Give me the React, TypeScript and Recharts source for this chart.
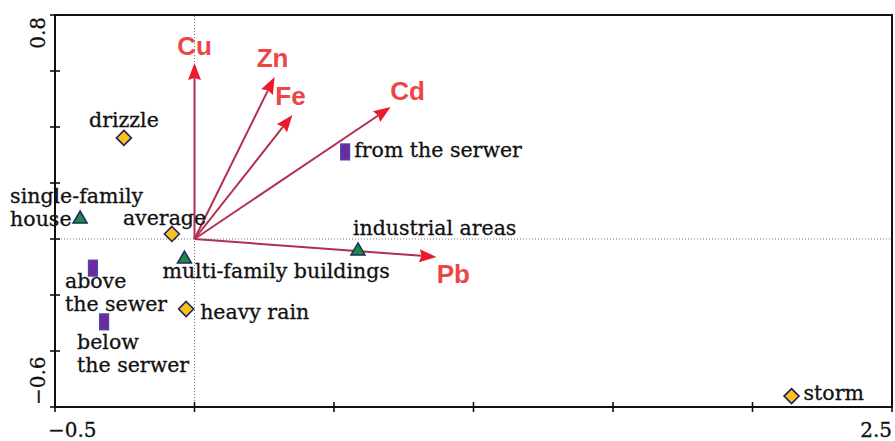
import React from "react";
import { ReferenceArea, ReferenceLine, Scatter, ScatterChart, XAxis, YAxis } from "recharts";

// axis ticks (only the end values carry a label)
const xTicks = [-0.5, 0, 0.5, 1, 1.5, 2, 2.5];
const yTicks = [-0.6, -0.4, -0.2, 0, 0.2, 0.4, 0.6, 0.8];

// sample scores
const rainfall = [
  { name: "drizzle", x: -0.253, y: 0.361 },
  { name: "average", x: -0.081, y: 0.018 },
  { name: "heavy rain", x: -0.03, y: -0.25 },
  { name: "storm", x: 2.14, y: -0.561 },
];
const buildings = [
  { name: "single-family house", x: -0.41, y: 0.075 },
  { name: "multi-family buildings", x: -0.036, y: -0.068 },
  { name: "industrial areas", x: 0.586, y: -0.039 },
];
const sampling = [
  { name: "from the serwer", x: 0.54, y: 0.311 },
  { name: "above the sewer", x: -0.364, y: -0.104 },
  { name: "below the serwer", x: -0.324, y: -0.296 },
];

// metal loadings (arrow tips, arrows start at the origin)
const metals = [
  { name: "Cu", x: 0, y: 0.629 },
  { name: "Zn", x: 0.287, y: 0.579 },
  { name: "Fe", x: 0.351, y: 0.443 },
  { name: "Cd", x: 0.703, y: 0.471 },
  { name: "Pb", x: 0.867, y: -0.064 },
];

// label placement in pixels relative to the marker (wrap = break at first space)
const labelPos: Record<string, { dx: number; dy: number; anchor?: string; wrap?: boolean; gap?: number }> = {
  drizzle: { dx: 0, dy: -11, anchor: "middle" },
  average: { dx: -49, dy: -9 },
  "heavy rain": { dx: 14, dy: 10 },
  storm: { dx: 12, dy: 4 },
  "single-family house": { dx: -70, dy: -15, wrap: true, gap: 23 },
  "multi-family buildings": { dx: -22, dy: 20 },
  "industrial areas": { dx: -5, dy: -15 },
  "from the serwer": { dx: 9, dy: 5 },
  "above the sewer": { dx: -28, dy: 20, wrap: true, gap: 23 },
  "below the serwer": { dx: -27, dy: 27, wrap: true, gap: 23 },
};
const metalLabelPos: Record<string, { dx: number; dy: number }> = {
  Cu: { dx: 0, dy: -8 },
  Zn: { dx: -2, dy: -10 },
  Fe: { dx: -2, dy: -10 },
  Cd: { dx: 17, dy: -7 },
  Pb: { dx: 17, dy: 26 },
};

const SERIF = "'DejaVu Serif', serif";
const SANS = "'Liberation Sans', Arial, sans-serif";

function PointLabel({ cx, cy, name }: { cx: number; cy: number; name: string }) {
  const pos = labelPos[name] || { dx: 10, dy: 5 };
  const i = name.indexOf(" ");
  const lines = pos.wrap && i > 0 ? [name.slice(0, i), name.slice(i + 1)] : [name];
  return (
    <g>
      {lines.map((l, k) => (
        <text
          key={k}
          x={cx + pos.dx}
          y={cy + pos.dy + k * (pos.gap || 0)}
          textAnchor={pos.anchor || "start"}
          fontFamily={SERIF}
          fontSize={20.5}
          fill="#111"
          stroke="#111"
          strokeWidth={0.3}
        >
          {l}
        </text>
      ))}
    </g>
  );
}

function Diamond(p: any) {
  const { cx, cy } = p;
  const r = 7.5;
  return (
    <g>
      <polygon
        points={`${cx},${cy - r} ${cx + r},${cy} ${cx},${cy + r} ${cx - r},${cy}`}
        fill="#f8c21c"
        stroke="#24205e"
        strokeWidth={1.6}
      />
      <PointLabel cx={cx} cy={cy} name={p.payload.name} />
    </g>
  );
}

function Triangle(p: any) {
  const { cx, cy } = p;
  return (
    <g>
      <polygon
        points={`${cx},${cy - 7} ${cx + 7},${cy + 5} ${cx - 7},${cy + 5}`}
        fill="#1f8a3c"
        stroke="#1d2a68"
        strokeWidth={1.5}
      />
      <PointLabel cx={cx} cy={cy} name={p.payload.name} />
    </g>
  );
}

function Bar(p: any) {
  const { cx, cy } = p;
  return (
    <g>
      <rect x={cx - 4.5} y={cy - 8} width={9} height={16} fill="#6b2b9e" stroke="#4b4bb0" strokeWidth={1.2} />
      <PointLabel cx={cx} cy={cy} name={p.payload.name} />
    </g>
  );
}

function arrowShape(name: string) {
  return (p: any) => {
    const { x1, y1, x2, y2 } = p;
    const dx = x2 - x1;
    const dy = y2 - y1;
    const len = Math.sqrt(dx * dx + dy * dy) || 1;
    const ux = dx / len;
    const uy = dy / len;
    const head = 17;
    const half = 6.5;
    const bx = x2 - ux * head;
    const by = y2 - uy * head;
    const lp = metalLabelPos[name];
    return (
      <g>
        <line x1={x1} y1={y1} x2={bx + ux * 2} y2={by + uy * 2} stroke="#b0304e" strokeWidth={2} />
        <polygon
          points={`${x2},${y2} ${bx - uy * half},${by + ux * half} ${bx + ux * 2},${by + uy * 2} ${bx + uy * half},${by - ux * half}`}
          fill="#ea1b2d"
        />
        <text
          x={x2 + lp.dx}
          y={y2 + lp.dy}
          textAnchor="middle"
          fontFamily={SANS}
          fontWeight="bold"
          fontSize={26}
          fill="#ec4646"
        >
          {name}
        </text>
      </g>
    );
  };
}

function XTick(p: any) {
  const { x, y, payload, index } = p;
  const last = index === xTicks.length - 1;
  return (
    <g>
      <line x1={x} x2={x} y1={y - 5} y2={y + 5} stroke="#111" strokeWidth={1.6} />
      {(index === 0 || last) && (
        <text
          x={last ? x : x - 7}
          y={y + 30}
          textAnchor={last ? "end" : "start"}
          fontFamily={SERIF}
          fontSize={20}
          fill="#111"
          stroke="#111"
          strokeWidth={0.3}
        >
          {String(payload.value).replace("-", "\u2212")}
        </text>
      )}
    </g>
  );
}

function YTick(p: any) {
  const { x, y, payload, index } = p;
  const last = index === yTicks.length - 1;
  const tx = x - 10;
  const ty = last ? y + 2 : y - 2;
  return (
    <g>
      <line x1={x - 5} x2={x + 5} y1={y} y2={y} stroke="#111" strokeWidth={1.6} />
      {(index === 0 || last) && (
        <text
          x={tx}
          y={ty}
          transform={`rotate(-90 ${tx} ${ty})`}
          textAnchor={last ? "end" : "start"}
          fontFamily={SERIF}
          fontSize={20}
          fill="#111"
          stroke="#111"
          strokeWidth={0.3}
        >
          {String(payload.value).replace("-", "\u2212")}
        </text>
      )}
    </g>
  );
}

export default function App() {
  return (
    <div style={{ position: "absolute", left: 0, top: 0, width: 895, height: 441 }}>
      <ScatterChart width={895} height={441} margin={{ top: 15, right: 3, bottom: 0, left: 0 }}>
        <XAxis
          type="number"
          dataKey="x"
          domain={[-0.5, 2.5]}
          ticks={xTicks}
          interval={0}
          axisLine={false}
          tickLine={false}
          tickSize={0}
          tickMargin={0}
          height={34}
          tick={<XTick />}
        />
        <YAxis
          type="number"
          dataKey="y"
          domain={[-0.6, 0.8]}
          ticks={yTicks}
          interval={0}
          axisLine={false}
          tickLine={false}
          tickSize={0}
          tickMargin={0}
          width={55}
          tick={<YTick />}
        />
        <ReferenceLine x={0} stroke="#777" strokeWidth={1} strokeDasharray="1 2" />
        <ReferenceLine y={0} stroke="#777" strokeWidth={1} strokeDasharray="1 2" />
        <ReferenceArea x1={-0.5} x2={2.5} y1={-0.6} y2={0.8} fill="none" fillOpacity={0} stroke="#111" strokeWidth={2} />
        {metals.map((m) => (
          <ReferenceLine
            key={m.name}
            segment={[
              { x: 0, y: 0 },
              { x: m.x, y: m.y },
            ]}
            shape={arrowShape(m.name)}
          />
        ))}
        <Scatter data={rainfall} shape={Diamond} isAnimationActive={false} />
        <Scatter data={buildings} shape={Triangle} isAnimationActive={false} />
        <Scatter data={sampling} shape={Bar} isAnimationActive={false} />
      </ScatterChart>
    </div>
  );
}
